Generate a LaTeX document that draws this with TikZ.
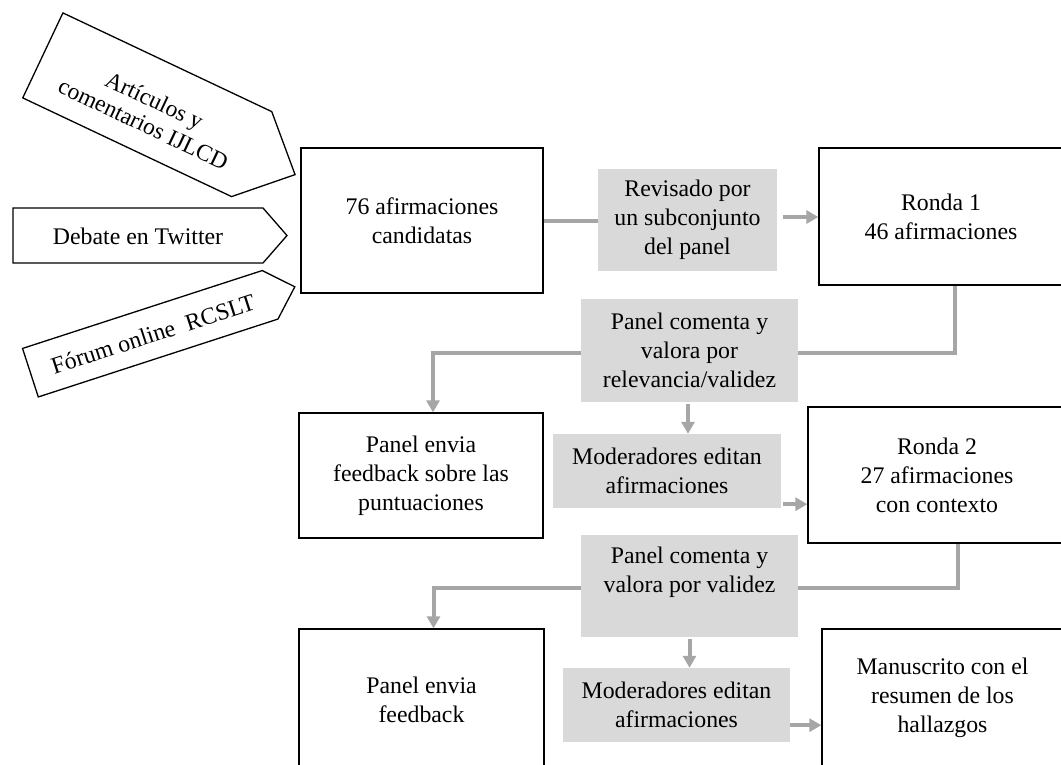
\documentclass[tikz,border=0pt]{standalone}
\usepackage{fontspec}
\setmainfont{Liberation Serif}
\usetikzlibrary{arrows.meta,calc}
\definecolor{graybox}{HTML}{D9D9D9}
\definecolor{lineg}{HTML}{A6A6A6}
\begin{document}
\begin{tikzpicture}[x=1pt,y=1pt,
  txt/.style={font=\fontsize{23.8pt}{29pt}\selectfont, align=center, inner sep=0pt},
  bbox/.style={txt, draw, line width=1.3pt},
  gbox/.style={txt, fill=graybox},
  conn/.style={draw=lineg, line width=4pt},
  arr/.style={conn, -{Triangle[width=13pt,length=12pt]}},
  srcshape/.style={draw, line width=1.3pt, fill=white}]
\useasboundingbox (0,0) rectangle (1061,-764);
\clip (0,0) rectangle (1061,-764);

% source arrows
\begin{scope}[shift={(147.25,-104.75)},rotate=-25.3]
  \draw[srcshape] (-115.5,47) -- (115.5,47) -- (163.5,0) -- (115.5,-47) -- (-115.5,-47) -- cycle;
\end{scope}
\node[txt, rotate=-25.3, font=\fontsize{23.5pt}{26pt}\selectfont] (s1) at (149,-112) {Artículos y\\comentarios IJLCD};

\draw[srcshape] (13,-208) -- (263,-208) -- (287,-235.5) -- (263,-263) -- (13,-263) -- cycle;
\node[txt] (s2) at (138,-236) {Debate en Twitter};

\begin{scope}[shift={(150.25,-333.75)},rotate=18]
  \draw[srcshape] (-126,25.5) -- (126,25.5) -- (152,0) -- (126,-25.5) -- (-126,-25.5) -- cycle;
\end{scope}
\node[txt, rotate=18] (s3) at (153,-334) {Fórum online\ \ RCSLT};

% boxes
\node[bbox, minimum width=242pt, minimum height=145pt] (cand) at (422,-220.5) {76 afirmaciones\\candidatas};
\node[gbox, minimum width=179pt, minimum height=102pt] (rev) at (687.5,-220) {Revisado por\\un subconjunto\\del panel};
\node[bbox, minimum width=244pt, minimum height=137pt] (r1) at (941,-216.5) {Ronda 1\\46 afirmaciones};
\node[gbox, minimum width=217pt, minimum height=103pt] (pc1) at (689.5,-350.5) {Panel comenta y\\valora por\\relevancia/validez};
\node[bbox, minimum width=244pt, minimum height=125pt] (pe1) at (421,-475.5) {Panel envia\\feedback sobre las\\puntuaciones};
\node[gbox, minimum width=228pt, minimum height=74pt] (mod1) at (667,-471) {Moderadores editan\\afirmaciones};
\node[bbox, minimum width=258pt, minimum height=136pt] (r2) at (937,-475) {Ronda 2\\27 afirmaciones\\con contexto};
\node[gbox, minimum width=217pt, minimum height=102pt] (pc2) at (689.5,-586) {};
\node[txt] (pc2t) at (689.5,-572.5) {Panel comenta y\\valora por validez};
\node[bbox, minimum width=245pt, minimum height=142pt] (pe2) at (421.5,-700) {Panel envia\\feedback};
\node[gbox, minimum width=227pt, minimum height=74pt] (mod2) at (676.5,-705) {Moderadores editan\\afirmaciones};
\node[bbox, minimum width=241pt, minimum height=138pt] (man) at (942.5,-698) {Manuscrito con el\\resumen de los\\hallazgos};

% connectors
\draw[conn] (cand.east) -- (cand.east -| rev.west);
\coordinate (revo) at ($(rev.east)+(6,3)$);
\draw[arr] (revo) -- (revo -| r1.west);
\draw[conn] ([xshift=14pt]r1.south) |- ([yshift=-2.5pt]pc1.east);
\draw[arr] ([yshift=-2.5pt]pc1.west) -| ([xshift=12pt]pe1.north);
\coordinate (pc1o) at ($(pc1.south)+(-1.5,-2)$);
\draw[arr] (pc1o) -- (pc1o |- mod1.north);
\coordinate (m1o) at ($(mod1.south east)+(2,4)$);
\draw[arr] (m1o) -- (m1o -| r2.west);
\draw[conn] ([xshift=21pt]r2.south) |- ([yshift=-2pt]pc2.east);
\draw[arr] ([yshift=-2pt]pc2.west) -| ([xshift=12pt]pe2.north);
\coordinate (pc2o) at ($(pc2.south)+(0,-2)$);
\draw[arr] (pc2o) -- (pc2o |- mod2.north);
\coordinate (m2o) at ($(mod2.south east)+(0,17)$);
\draw[arr] (m2o) -- (m2o -| man.west);
\end{tikzpicture}
\end{document}
